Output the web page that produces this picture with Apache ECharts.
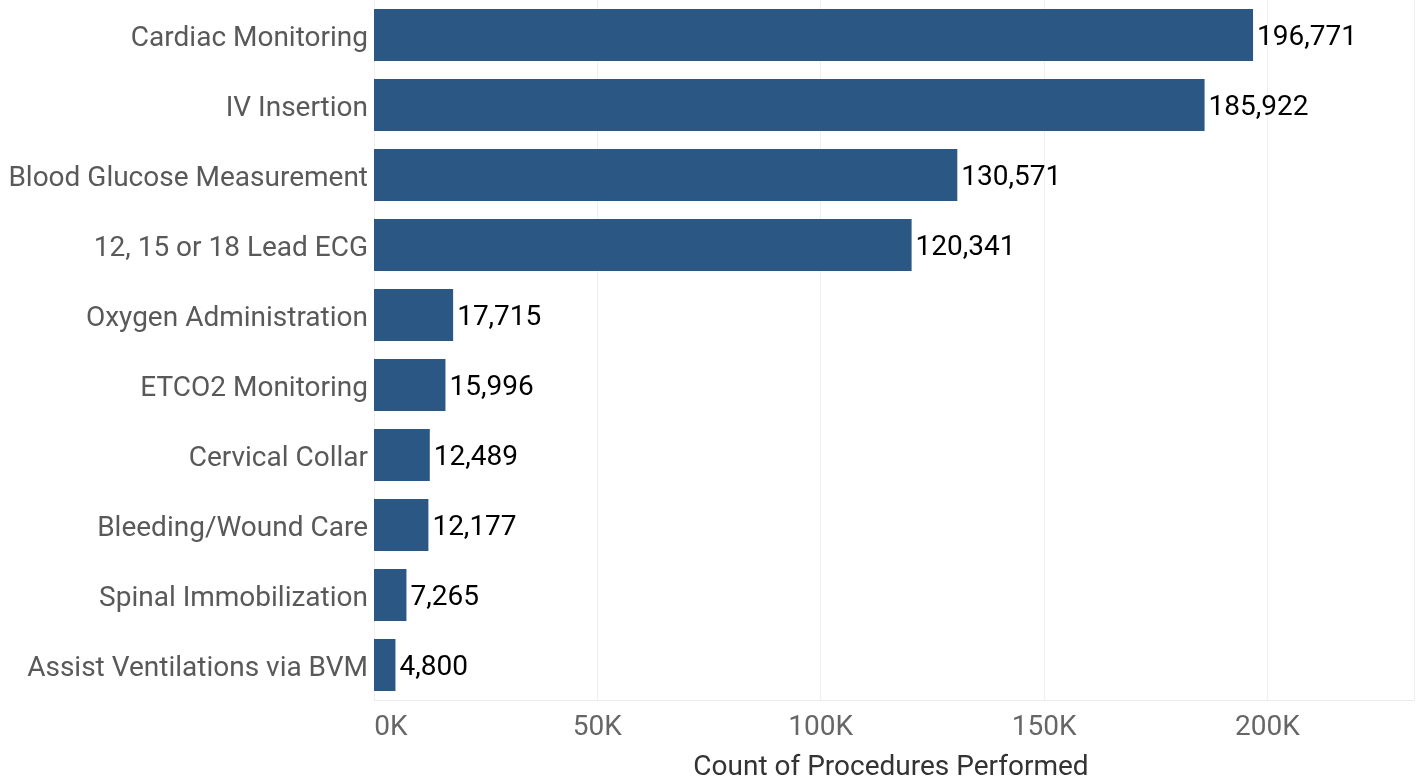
<!DOCTYPE html>
<html><head><meta charset="utf-8">
<script src="https://cdn.jsdelivr.net/npm/echarts@6/dist/echarts.min.js"></script>
<style>html,body{margin:0;padding:0;background:#fff}#c{width:1417px;height:780px}</style>
</head><body><div id="c"></div>
<script>
const categories = ["Cardiac Monitoring","IV Insertion","Blood Glucose Measurement","12, 15 or 18 Lead ECG","Oxygen Administration","ETCO2 Monitoring","Cervical Collar","Bleeding/Wound Care","Spinal Immobilization","Assist Ventilations via BVM"];
const counts = [196771,185922,130571,120341,17715,15996,12489,12177,7265,4800];
const tickLabels = {0:"0K",50000:"50K",100000:"100K",150000:"150K",200000:"200K"};
const axisTitle = "Count of Procedures Performed";
const FONT = "Roboto, 'Noto Sans', sans-serif";
const chart = echarts.init(document.getElementById('c'));
chart.setOption({
  animation:false,
  grid:{left:374, right:0, top:0, height:700, containLabel:false},
  xAxis:{type:'value', min:0, max:232800, interval:50000,
    axisLine:{show:true, lineStyle:{color:'#ebebeb', width:1}},
    axisTick:{show:false},
    splitLine:{show:true, lineStyle:{color:'#eeeeee', width:1}},
    axisLabel:{color:'#666666', fontSize:28, fontFamily:FONT, margin:14,
      formatter:v=> (v===0 ? '{z|0K}' : (tickLabels[v]!==undefined ? tickLabels[v] : '')),
      rich:{z:{color:'#666666', fontSize:28, fontFamily:FONT, padding:[0,0,0,34]}}}
  },
  yAxis:{type:'category', data:categories, inverse:true,
    axisLine:{show:false}, axisTick:{show:false},
    axisLabel:{margin:6, formatter:v=>'{c|'+v+'}',
      rich:{c:{color:'#595959', fontSize:28, fontFamily:FONT, padding:[7,0,0,0]}}}
  },
  series:[{type:'bar', data:counts, barWidth:52,
    itemStyle:{color:'#2a5783'},
    label:{show:true, position:'right', distance:4, offset:[0,3], color:'#000', fontSize:28, fontFamily:FONT,
      formatter:p=>p.value.toLocaleString('en-US')}
  }],
  graphic:[{type:'text', x:891, y:768, style:{text:axisTitle, fill:'#333333', fontSize:28, fontFamily:FONT, textAlign:'center', textVerticalAlign:'middle'}}]
});
</script></body></html>
